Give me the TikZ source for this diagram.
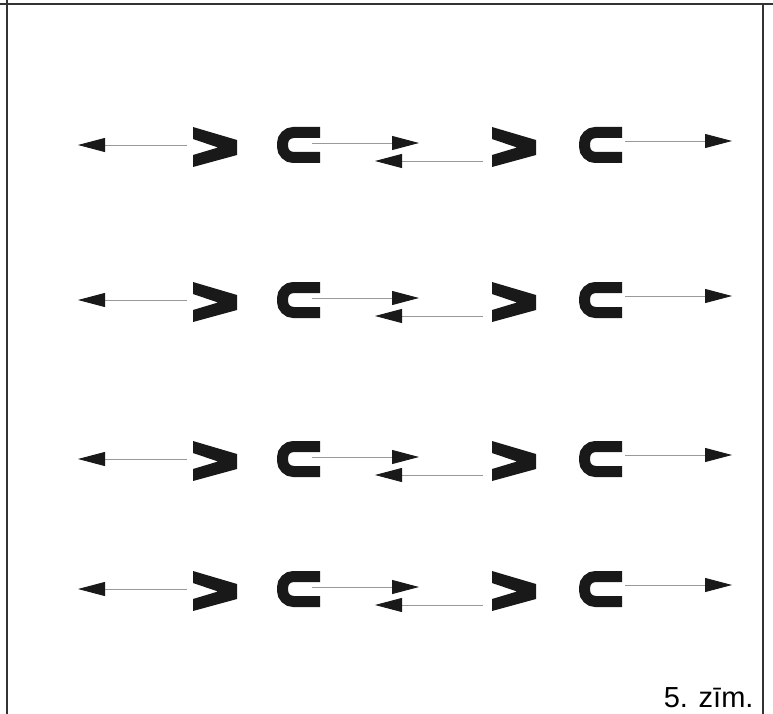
\documentclass[tikz,border=0pt]{standalone}
\usepackage{fontspec}
\setmainfont{Liberation Sans}
\usetikzlibrary{arrows.meta}

\begin{document}
\begin{tikzpicture}[
    x=1pt, y=-1pt,
    frame/.style={draw=black!80, line width=1.5pt},
    link/.style={draw=black!40, line width=0.9pt, -{Triangle[length=27pt, width=14pt, black!90]}},
    gt/.style={minimum width=44pt, minimum height=40pt, inner sep=0pt, outer sep=0pt},
    sub/.style={minimum width=44pt, minimum height=36pt, inner sep=0pt, outer sep=0pt},
    glyph/.style={black!90}
]
\useasboundingbox (0,0) rectangle (773,714);

% table frame
\draw[frame] (0,4) -- (773,4);
\draw[frame] (7,0) -- (7,714);
\draw[frame] (763,4) -- (763,714);

\foreach \t [count=\r] in {127,282,441,571} {
  \node[gt]  (gl\r) at (215,\t+20) {};
  \node[sub] (sl\r) at (298,\t+18) {};
  \node[gt]  (gr\r) at (514,\t+20) {};
  \node[sub] (sr\r) at (600,\t+18) {};

  % the ">" and the open-right bracket
  \foreach \g in {gl\r,gr\r}
    \fill[glyph, shift={(\g.north west)}]
      (0,0) -- (44,13) -- (44,28) -- (0,40) -- (0,28) -- (25,20.5) -- (0,12) -- cycle;
  \foreach \g in {sl\r,sr\r}
    \draw[glyph, line width=11pt, rounded corners=11pt, shift={(\g.north west)}]
      (44,5.5) -- (6.5,5.5) -- (6.5,30.5) -- (44,30.5);

  \coordinate (p\r) at (187,\t+18);
  \coordinate (q\r) at (78,\t+18);
  \coordinate (u\r) at (312,\t+16);
  \coordinate (v\r) at (419,\t+16);
  \coordinate (w\r) at (483,\t+34);
  \coordinate (z\r) at (375,\t+34);
  \coordinate (e\r) at (625,\t+14);
  \coordinate (f\r) at (732,\t+14);

  \draw[link] (p\r) -- (q\r);
  \draw[link] (u\r) -- (v\r);
  \draw[link] (w\r) -- (z\r);
  \draw[link] (e\r) -- (f\r);
}

\node[anchor=base east, font=\fontsize{29}{34}\selectfont] (cap) at (757,707) {5. zīm.};
\end{tikzpicture}
\end{document}
